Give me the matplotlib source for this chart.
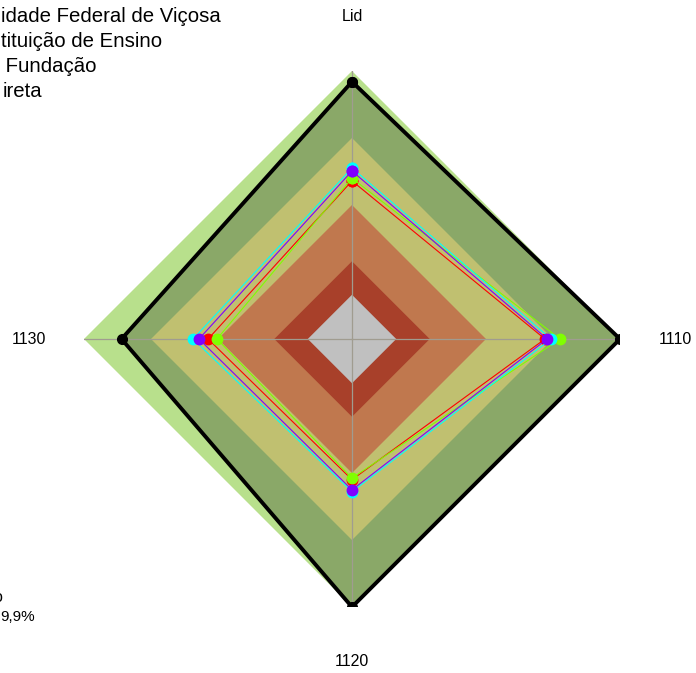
import numpy as np
import matplotlib
matplotlib.use("Agg")
import matplotlib.pyplot as plt

plt.rcParams['font.family'] = ['Liberation Sans', 'DejaVu Sans']

# axes of the radar, clockwise from the top
axis_labels = ['Lid', '1110', '1120', '1130']

# background bands (outer to inner), same value on every axis
band_values = [100, 75, 50, 29, 16.5]
band_colors = ['#b8e08c', '#c0c070', '#c0784e', '#a8402a', '#c0c0c0']

# black reference series (filled olive underneath)
ref_values = [96, 100, 100, 86]

# the four entities, rainbow(4) palette
series_names = ['Série 1', 'Série 2', 'Série 3', 'Série 4']
series_colors = ['#FF0000', '#80FF00', '#00FFFF', '#8000FF']
series_values = [
    [59.0, 72.0, 52.5, 53.7],
    [60.0, 77.6, 51.9, 50.4],
    [63.8, 74.3, 57.0, 59.3],
    [62.7, 72.8, 56.3, 57.1],
]

# legend text as it is visible in the source (cut by the left edge there)
legend_lines = ['idade Federal de Viçosa', 'tituição de Ensino', ' Fundação', 'ireta']
footer_lines = ['o', '9,9%']

W, H = 696, 673
cx, cy, R = 352, 339, 268

fig = plt.figure(figsize=(W / 100, H / 100), dpi=100)
ax = fig.add_axes([(cx - R) / W, (H - cy - R) / H, 2 * R / W, 2 * R / H], projection='polar')
ax.set_theta_zero_location('N')
ax.set_theta_direction(-1)
ax.set_ylim(0, 100)
ax.axis('off')

theta = np.linspace(0, 2 * np.pi, len(axis_labels), endpoint=False)
theta_c = np.append(theta, theta[0])


def closed(vals):
    return np.append(vals, vals[0])


# outer light green band
ax.fill(theta_c, closed([band_values[0]] * 4), color=band_colors[0], lw=0, zorder=1)
# olive area under the black reference
ax.fill(theta_c, closed(ref_values), color='#8aa868', lw=0, zorder=2)
# inner bands
for v, c in zip(band_values[1:], band_colors[1:]):
    ax.fill(theta_c, closed([v] * 4), color=c, lw=0, zorder=3)

# spokes
for t in theta:
    ax.plot([t, t], [0, 100], color='#a09c90', lw=0.9, zorder=4)

# reference line
ax.plot(theta_c, closed(ref_values), color='black', lw=2.8, marker='o', ms=7, zorder=5)

for name, col, vals in zip(series_names, series_colors, series_values):
    ax.plot(theta_c, closed(vals), color=col, lw=0.8, marker='o', ms=7.5, zorder=6)

for t, lab in zip(theta, axis_labels):
    ax.text(t, 120.5, lab, ha='center', va='center', fontsize=11.5, clip_on=False)

# top-left legend text
legend_starts = [1, 1, 0, 3]
for i, (txt, xs) in enumerate(zip(legend_lines, legend_starts)):
    fig.text(xs / W, 1 - (17 + 24.8 * i) / H, txt, ha='left', va='center', fontsize=14.7)

# bottom-left note
fig.text(2 / W, 1 - 597 / H, footer_lines[0], ha='right', va='center', fontsize=11.5)
fig.text(0 / W, 1 - 617 / H, footer_lines[1], ha='left', va='center', fontsize=11)

fig.savefig('out.png', dpi=100)
